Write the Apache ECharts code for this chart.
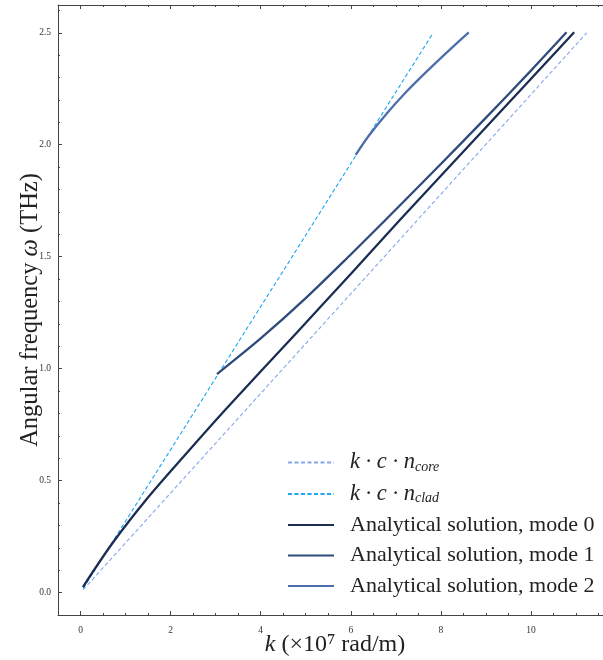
<!DOCTYPE html>
<html lang="en">
<head>
    <meta charset="UTF-8">
    <script src="https://cdn.jsdelivr.net/npm/echarts@6/dist/echarts.min.js"></script>
    <style>
        html, body { margin: 0; padding: 0; background: #fff; }
        #chart { width: 603px; height: 660px; }
    </style>
    <title>Dispersion</title>
</head>
<body>
    <div id="chart"></div>
    <script type="text/javascript">
        // light lines: omega = k * c * n
        var coreK = [0.06, 11.24];
        var coreW = [0.013, 2.5];
        var cladK = [0.06, 7.83];
        var cladW = [0.019, 2.5];

        // analytical solutions
        var mode0K = [0.053, 0.70, 1.475, 2.3, 3.23, 4.81, 6.0, 7.10, 9.09, 10.96];
        var mode0W = [0.025, 0.218, 0.419, 0.61, 0.82, 1.163, 1.423, 1.666, 2.097, 2.502];
        var mode1K = [3.03, 4.0, 5.0, 6.0, 6.77, 8.0, 8.96, 10.0, 10.79];
        var mode1W = [0.976, 1.135, 1.315, 1.51, 1.664, 1.914, 2.112, 2.331, 2.502];
        var mode2K = [6.11, 6.4, 6.8, 7.25, 7.7, 8.2, 8.62];
        var mode2W = [1.955, 2.04, 2.14, 2.24, 2.33, 2.425, 2.502];

        var names = ['core', 'clad', 'Analytical solution, mode 0', 'Analytical solution, mode 1', 'Analytical solution, mode 2'];
        var colors = ['#86a6ec', '#1ea5f3', '#1b2d52', '#2f4b7c', '#4d6ea8'];

        function pairs(xs, ys) {
            return xs.map(function (x, i) { return [x, ys[i]]; });
        }

        var serif = 'Liberation Serif';
        var ink = '#222';
        var chart = echarts.init(document.getElementById('chart'));

        function axisParts(minorSplit) {
            return {
                axisLine: { onZero: false, lineStyle: { color: '#444', width: 1 } },
                axisTick: { show: true, inside: true, length: 4, lineStyle: { color: '#444' } },
                minorTick: { show: true, splitNumber: minorSplit, length: 2, lineStyle: { color: '#444' } },
                splitLine: { show: false }
            };
        }

        function lineSeries(idx, data, dashed, width) {
            return {
                name: names[idx],
                type: 'line',
                data: data,
                symbol: 'none',
                smooth: dashed ? false : 0.3,
                color: colors[idx],
                lineStyle: { color: colors[idx], width: width, type: dashed ? [4, 2.5] : 'solid' },
                z: dashed ? 2 : 3
            };
        }

        var option = {
            animation: false,
            grid: { left: 58, right: -9, top: 5, bottom: 45, containLabel: false, outerBoundsMode: 'none' },
            legend: {
                orient: 'vertical',
                left: 287,
                top: 451,
                padding: 0,
                itemWidth: 46,
                itemHeight: 10,
                itemGap: 8.5,
                itemStyle: { opacity: 0 },
                data: names,
                textStyle: {
                    fontFamily: serif, fontSize: 22, color: ink, lineHeight: 22,
                    padding: [0, 0, 0, 11],
                    rich: {
                        it: { fontFamily: serif, fontStyle: 'italic', fontSize: 22.5, color: ink },
                        sub: { fontFamily: serif, fontStyle: 'italic', fontSize: 14, color: ink, padding: [9, 0, 0, 0] }
                    }
                },
                formatter: function (n) {
                    if (n === 'core') return '{it|k · c · n}{sub|core}';
                    if (n === 'clad') return '{it|k · c · n}{sub|clad}';
                    return n;
                }
            },
            xAxis: [Object.assign({
                type: 'value',
                min: -0.5,
                max: 11.8,
                splitNumber: 6,
                axisLabel: {
                    fontFamily: serif, fontSize: 9.5, color: '#333', margin: 10,
                    formatter: function (v) { return (Math.abs(v % 2) < 1e-9) ? String(v) : ''; }
                },
                name: '{it|k} (×10⁷ rad/m)',
                nameLocation: 'middle',
                nameGap: 18,
                nameMoveOverlap: false,
                nameTextStyle: {
                    fontFamily: serif, fontSize: 24, color: ink,
                    rich: { it: { fontFamily: serif, fontStyle: 'italic', fontSize: 24, color: ink } }
                }
            }, axisParts(4)),
            Object.assign({
                type: 'value',
                position: 'top',
                min: -0.5,
                max: 11.8,
                splitNumber: 6,
                axisLabel: { show: false }
            }, axisParts(4))],
            yAxis: Object.assign({
                type: 'value',
                min: -0.1,
                max: 2.624,
                splitNumber: 5,
                axisLabel: {
                    fontFamily: serif, fontSize: 9.5, color: '#333', margin: 7,
                    formatter: function (v) { return (Math.abs(Math.round(v * 2) - v * 2) < 1e-9) ? v.toFixed(1) : ''; }
                },
                name: '{n|Angular frequency }{it|ω}{n| (THz)}',
                nameLocation: 'middle',
                nameRotate: 90,
                nameGap: 15,
                nameMoveOverlap: false,
                nameTextStyle: {
                    rich: {
                        n: { fontFamily: serif, fontSize: 24.5, color: ink },
                        it: { fontFamily: serif, fontStyle: 'italic', fontSize: 24.5, color: ink }
                    }
                }
            }, axisParts(5)),
            series: [
                lineSeries(0, pairs(coreK, coreW), true, 1.1),
                lineSeries(1, pairs(cladK, cladW), true, 1.1),
                lineSeries(2, pairs(mode0K, mode0W), false, 2.3),
                lineSeries(3, pairs(mode1K, mode1W), false, 2.3),
                lineSeries(4, pairs(mode2K, mode2W), false, 2.3)
            ]
        };
        chart.setOption(option);
    </script>
</body>
</html>
